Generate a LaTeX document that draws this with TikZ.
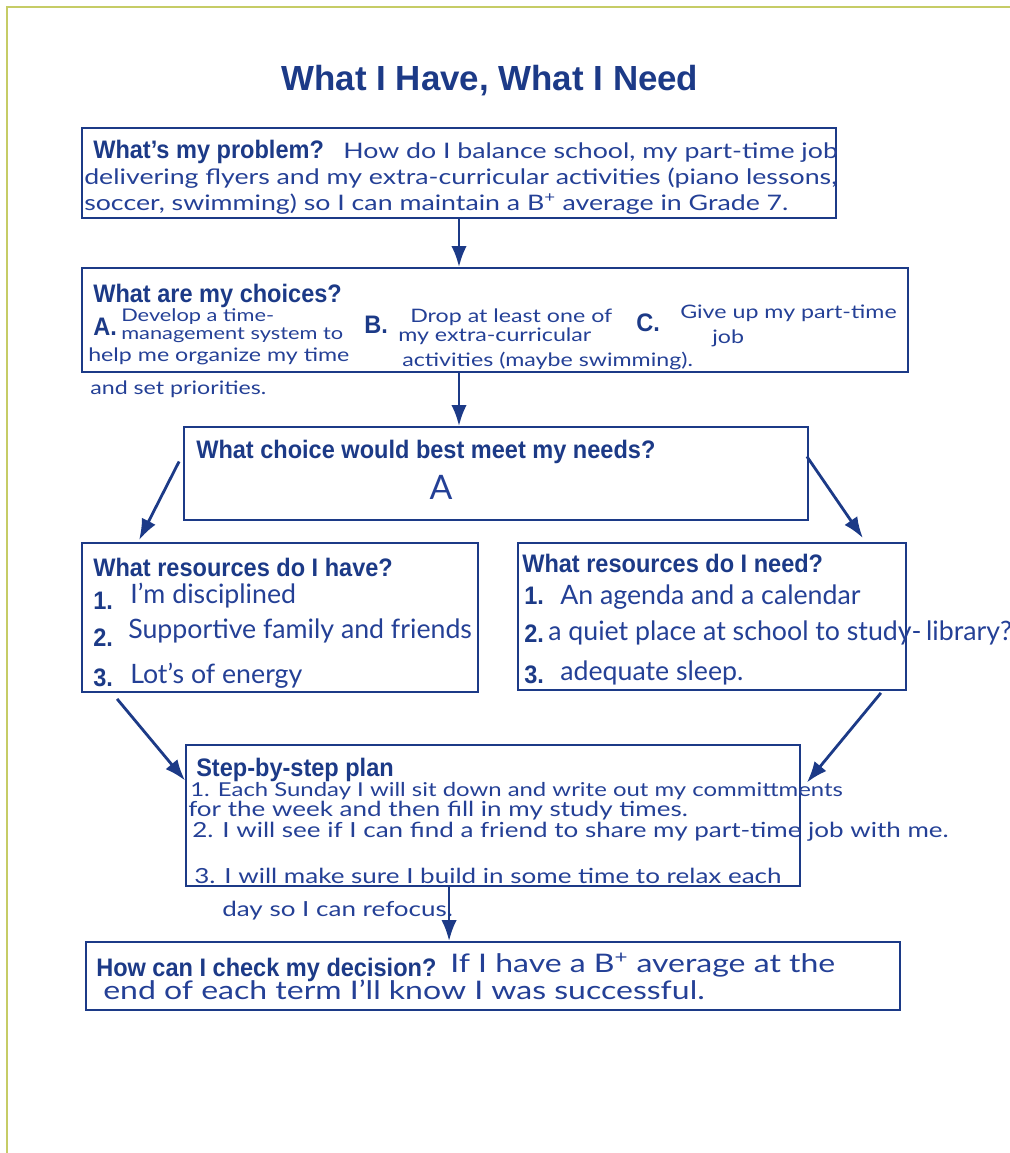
\documentclass[tikz,border=0pt]{standalone}
\usepackage{fontspec}
\setmainfont{Liberation Sans}
\newfontfamily\headfont[FakeStretch=0.93]{Liberation Sans}
\newfontfamily\handfont{Lato}
\newfontfamily\widehandfont[FakeStretch=1.25]{Lato}
\usetikzlibrary{arrows.meta,positioning,fit,calc}
\definecolor{ink}{RGB}{28,58,135}
\definecolor{pen}{RGB}{36,64,150}
\definecolor{frame}{RGB}{198,204,102}
\tikzset{>={Latex[length=15pt,width=11pt]}}

\begin{document}
\begin{tikzpicture}[x=0.025cm,y=-0.025cm]

	% Setup the styles for boxes and texts
	\tikzset{box style/.style={draw=ink, line width=1.3pt, inner sep=0pt},
	         head style/.style={text=ink, inner sep=0pt, anchor=base west,
	                            font=\headfont\fontsize{18}{21}\selectfont\bfseries},
	         hand style/.style={text=pen, inner sep=0pt, anchor=base west,
	                            font=\handfont\fontsize{19}{22}\selectfont},
	         problem hand/.style={hand style, font=\widehandfont\fontsize{15.2}{18}\selectfont},
	         plan hand/.style={hand style, font=\widehandfont\fontsize{14.8}{17}\selectfont},
	         small hand/.style={hand style, font=\widehandfont\fontsize{13.2}{16}\selectfont},
	         tiny hand/.style={hand style, font=\widehandfont\fontsize{12.4}{15}\selectfont},
	         wide hand/.style={hand style, font=\widehandfont\fontsize{18.2}{21}\selectfont},
	         link style/.style={->, draw=ink, line width=2pt}}

	\useasboundingbox (0,0) rectangle (1010,1153);
	\draw[frame, line width=1.5pt] (7,1153) -- (7,7) -- (1010,7);

	% Title
	\node[text=ink, anchor=base, font=\fontsize{24.8}{29}\selectfont\bfseries] (title) at (490,90) {What I Have, What I Need};

	% Draw the boxes
	\node[box style, fit={(82,128) (836,218)}]  (prob)   {};
	\node[box style, fit={(82,268) (908,372)}]  (choice) {};
	\node[box style, fit={(184,427) (808,520)}] (best)   {};
	\node[box style, fit={(82,543) (478,692)}]  (have)   {};
	\node[box style, fit={(518,543) (906,690)}] (need)   {};
	\node[box style, fit={(186,745) (800,886)}] (plan)   {};
	\node[box style, fit={(86,942) (900,1010)}] (check)  {};

	% Problem
	\node[head style] (q1) at (93,158) {What’s my problem?};
	\node[problem hand] (p1) at (343,158) {How do I balance school, my part-time job};
	\node[problem hand] (p2) at (84,184) {delivering flyers and my extra-curricular activities (piano lessons,};
	\node[problem hand] (p3) at (84,210) {soccer, swimming) so I can maintain a B\textsuperscript{+} average in Grade 7.};

	% Choices
	\node[head style] (q2) at (93,302) {What are my choices?};
	\node[head style] (la) at (93,335) {A.};
	\node[tiny hand] (a1) at (121,321) {Develop a time-};
	\node[tiny hand] (a2) at (121,339) {management system to};
	\node[small hand] (a3) at (88,361) {help me organize my time};
	\node[small hand] (a4) at (90,394) {and set priorities.};
	\node[head style] (lb) at (364,333) {B.};
	\node[small hand] (b1) at (410,322) {Drop at least one of};
	\node[small hand] (b2) at (398,341) {my extra-curricular};
	\node[small hand] (b3) at (402,366) {activities (maybe swimming).};
	\node[head style] (lc) at (636,331) {C.};
	\node[small hand] (c1) at (680,318) {Give up my part-time};
	\node[small hand] (c2) at (712,343) {job};

	% Best choice
	\node[head style] (q3) at (196,458) {What choice would best meet my needs?};
	\node[hand style, anchor=base, font=\handfont\fontsize{24}{28}\selectfont] (pick) at (441,499) {A};

	% Resources I have
	\node[head style] (q4) at (93,576) {What resources do I have?};
	\node[head style] (h1n) at (93,609) {1.};
	\node[hand style] (h1) at (130,603) {I’m disciplined};
	\node[head style] (h2n) at (93,646) {2.};
	\node[hand style] (h2) at (128,638) {Supportive family and friends};
	\node[head style] (h3n) at (93,686) {3.};
	\node[hand style] (h3) at (130,683) {Lot’s of energy};

	% Resources I need
	\node[head style] (q5) at (522,572) {What resources do I need?};
	\node[head style] (n1n) at (524,604) {1.};
	\node[hand style] (n1) at (560,604) {An agenda and a calendar};
	\node[head style] (n2n) at (524,642) {2.};
	\node[hand style] (n2) at (548,640) {a quiet place at school to study-\,library?};
	\node[head style] (n3n) at (524,683) {3.};
	\node[hand style] (n3) at (560,680) {adequate sleep.};

	% Plan
	\node[head style] (q6) at (196,776) {Step-by-step plan};
	\node[plan hand, font=\widehandfont\fontsize{13.6}{16}\selectfont] (s1) at (190,796) {1. Each Sunday I will sit down and write out my committments};
	\node[plan hand] (s1b) at (188,816) {for the week and then fill in my study times.};
	\node[plan hand] (s2) at (192,837) {2. I will see if I can find a friend to share my part-time job with me.};
	\node[plan hand] (s3) at (194,883) {3. I will make sure I build in some time to relax each};
	\node[plan hand] (s3b) at (222,916) {day so I can refocus.};

	% Check
	\node[head style] (q7) at (96,976) {How can I check my decision?};
	\node[wide hand] (k1) at (450,972) {If I have a B\textsuperscript{+} average at the};
	\node[wide hand] (k2) at (103,999) {end of each term I’ll know I was successful.};

	% Connect the boxes with arrows
	\draw[link style] (prob.south) -- (prob.south |- choice.north);
	\draw[link style] (choice.south -| prob.south) -- (best.north -| prob.south);
	\draw[link style] ($(best.west)+(-4,-12)$) -- ($(have.north west)+(58,-2)$);
	\draw[link style] ($(best.east)+(-2,-17)$) -- ($(need.north east)+(-44,-4)$);
	\draw[link style] ($(have.south west)+(36,6)$) -- ($(plan.west)+(0,-35)$);
	\draw[link style] ($(need.south east)+(-26,2)$) -- ($(plan.east)+(6,-33)$);
	\draw[link style] ($(plan.south west)+(264,0)$) -- ($(check.north west)+(364,0)$);
\end{tikzpicture}
\end{document}
